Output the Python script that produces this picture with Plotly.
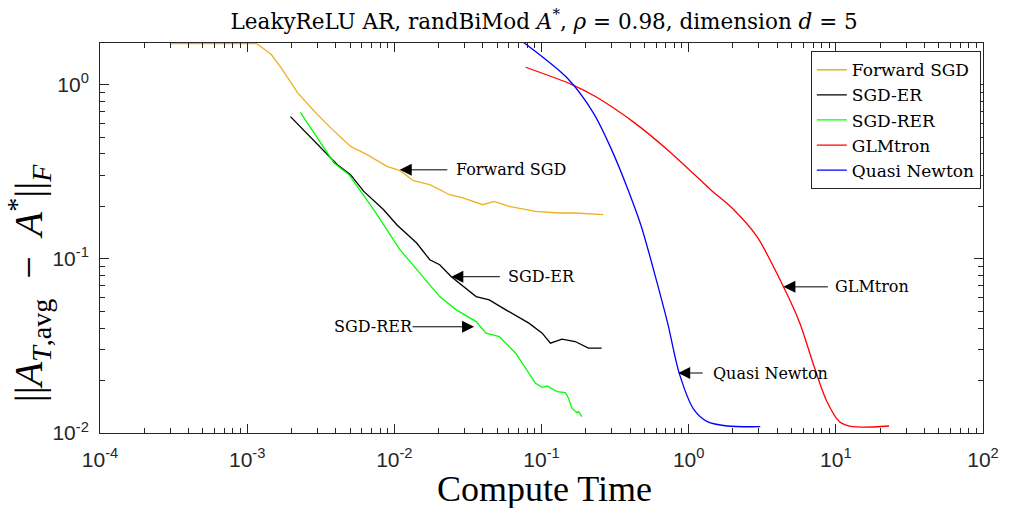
import math
import plotly.graph_objects as go

# ---- series data (compute time, error) ----
fwd_x = [3.02e-4, 1.155e-3, 1.316e-3, 1.458e-3, 1.702e-3, 1.987e-3, 2.205e-3, 2.857e-3,
         3.697e-3, 5.04e-3, 6.53e-3, 8.90e-3, 0.01094, 0.01347, 0.01742, 0.02375, 0.02924,
         0.03989, 0.04774, 0.06023, 0.0911, 0.1308, 0.1694, 0.2627]
fwd_y = [1.72, 1.72, 1.589, 1.487, 1.247, 1.023, 0.896, 0.7024,
         0.564, 0.4418, 0.396, 0.3392, 0.3203, 0.2807, 0.2662, 0.2332, 0.2233,
         0.2043, 0.2135, 0.1998, 0.187, 0.1831, 0.1831, 0.179]

er_x = [1.969e-3, 4.10e-3, 5.04e-3, 6.20e-3, 8.46e-3, 0.01039, 0.01418, 0.01742, 0.02034,
        0.02438, 0.03594, 0.04416, 0.05723, 0.0821, 0.1011, 0.1150, 0.1378, 0.1694,
        0.2083, 0.2564]
er_y = [0.6548, 0.3469, 0.304, 0.2436, 0.1912, 0.1568, 0.1231, 0.0987, 0.0924,
        0.0788, 0.0607, 0.0581, 0.0509, 0.0427, 0.0374, 0.0328, 0.0346, 0.0335,
        0.0307, 0.0307]

rer_x = [2.299e-3, 3.897e-3, 4.915e-3, 7.24e-3, 0.01094, 0.01418, 0.02034, 0.02636,
         0.03594, 0.04197, 0.0516, 0.0668, 0.0911, 0.1011, 0.1093, 0.1275, 0.1451,
         0.1527, 0.1609, 0.1739, 0.1783, 0.1879]
rer_y = [0.6932, 0.3548, 0.304, 0.1912, 0.1126, 0.0865, 0.0607, 0.0509,
         0.0436, 0.0374, 0.0358, 0.0287, 0.0193, 0.0183, 0.01862, 0.01728, 0.01705,
         0.01583, 0.01387, 0.01309, 0.01326, 0.01241]

glm_x = [0.078, 0.1609, 0.231, 0.4295, 0.7588, 1.411, 2.025, 2.906, 4.40, 5.695,
         7.0, 8.6, 10.59, 13.02, 22.99]
glm_y = [1.257, 1.0, 0.8566, 0.6025, 0.405, 0.2492, 0.1912, 0.1343, 0.0693, 0.0427,
         0.02515, 0.01548, 0.01161, 0.01087, 0.01097]

qn_x = [0.0745, 0.149, 0.225, 0.2993, 0.3871, 0.4767, 0.5856, 0.72, 0.863, 1.089,
        1.339, 1.825, 3.063]
qn_y = [1.76, 1.093, 0.6877, 0.4231, 0.2492, 0.1533, 0.0828, 0.0427, 0.022, 0.01356,
        0.01161, 0.01097, 0.01087]

names = ["Forward SGD", "SGD-ER", "SGD-RER", "GLMtron", "Quasi Newton"]
colors = ["#EDB120", "#000000", "#00FF00", "#FF0000", "#0000FF"]
shapes = ["linear", "linear", "linear", "spline", "spline"]

x_ticks = [1e-4, 1e-3, 1e-2, 1e-1, 1e0, 1e1, 1e2]
x_ticktext = ["10<sup>-4</sup>", "10<sup>-3</sup>", "10<sup>-2</sup>", "10<sup>-1</sup>",
              "10<sup>0</sup>", "10<sup>1</sup>", "10<sup>2</sup>"]
y_ticks = [1e-2, 1e-1, 1e0]
y_ticktext = ["10<sup>-2</sup>", "10<sup>-1</sup>", "10<sup>0</sup>"]

SERIF = "DejaVu Serif"
SERIF_BIG = "Liberation Serif"
SANS = "Liberation Sans"
AXC = "#262626"
NB = "\u00a0"

fig = go.Figure()
for xs, ys, nm, c, sh in zip([fwd_x, er_x, rer_x, glm_x, qn_x],
                             [fwd_y, er_y, rer_y, glm_y, qn_y], names, colors, shapes):
    line = dict(color=c, width=1.3, shape=sh)
    if sh == "spline":
        line["smoothing"] = 0.8
    fig.add_trace(go.Scatter(x=xs, y=ys, mode="lines", name=nm, line=line))


def minor_vals(lo, hi):
    vals = []
    for e in range(lo, hi):
        for m in range(2, 10):
            vals.append(m * 10.0 ** e)
    return vals


axis_common = dict(
    type="log", showgrid=False, zeroline=False, showline=True, linecolor=AXC,
    linewidth=1, mirror="allticks", ticks="inside", ticklen=9, tickwidth=1,
    tickcolor=AXC, tickfont=dict(family=SANS, size=21, color=AXC),
)

fig.update_xaxes(
    **axis_common, range=[-4, 2], tickvals=x_ticks, ticktext=x_ticktext,
    minor=dict(ticks="inside", ticklen=5, tickcolor=AXC, tickvals=minor_vals(-4, 2)),
    ticklabelstandoff=8,
)
fig.update_yaxes(
    **axis_common, range=[-2, 0.2385], tickvals=y_ticks, ticktext=y_ticktext,
    minor=dict(ticks="inside", ticklen=5, tickcolor=AXC, tickvals=minor_vals(-2, 1)),
    ticklabelstandoff=6,
)

# arrow annotations: (head x, head y, tail offset px, label, label x, label y, anchor)
arrows = [
    (0.01089, 0.324, 49, "Forward SGD", 10 ** -1.5926, 10 ** -0.4885, "left"),
    (0.0244, 0.0789, 50, "SGD-ER", 10 ** -1.2424, 10 ** -1.1034, "left"),
    (0.0348, 0.0407, -63, "SGD-RER", 10 ** -1.8622, 10 ** -1.3891, "right"),
    (4.40, 0.069, 46, "GLMtron", 10 ** 0.9798, 10 ** -1.159, "left"),
    (0.849, 0.0221, 26, "Quasi Newton", 10 ** 0.1495, 10 ** -1.6569, "left"),
]
for hx, hy, dx, label, tx, ty, anc in arrows:
    fig.add_annotation(x=math.log10(hx), y=math.log10(hy), xref="x", yref="y",
                       text="", showarrow=True, ax=dx, ay=0, arrowhead=2,
                       arrowsize=2.4, arrowwidth=1, arrowcolor="#000000",
                       standoff=0, startstandoff=0)
    fig.add_annotation(x=math.log10(tx), y=math.log10(ty), xref="x", yref="y",
                       text=label, showarrow=False, xanchor=anc, yanchor="middle",
                       font=dict(family=SERIF, size=16, color="#000000"))

# axis labels
fig.add_annotation(x=0.503, y=-0.143, xref="paper", yref="paper", text="Compute Time",
                   showarrow=False, xanchor="center", yanchor="middle",
                   font=dict(family=SERIF_BIG, size=36, color="#000000"))
fig.add_annotation(x=-0.081, y=0.385, xref="paper", yref="paper",
                   text=("||<i>A</i><sub><i>T</i>,avg</sub>" + NB * 2 + "\u2212" + NB * 2
                         + "<i>A</i><sup>*</sup>||<sub><i>F</i></sub>"),
                   textangle=-90, showarrow=False, xanchor="center", yanchor="middle",
                   font=dict(family=SERIF_BIG, size=40, color="#000000"))

title_text = ("LeakyReLU AR, randBiMod <i>A</i><sup>*</sup>, <i>\u03c1</i>" + NB + "=" + NB
              + "0.98, dimension <i>d</i>" + NB + "=" + NB + "5")

fig.update_layout(
    width=1011, height=508,
    margin=dict(l=100, r=20, t=43, b=75),
    paper_bgcolor="white", plot_bgcolor="white",
    font=dict(family=SERIF, color="#000000"),
    title=dict(
        text=title_text,
        x=0.503, xref="paper", xanchor="center", y=1 - 21 / 508, yref="container",
        yanchor="middle", font=dict(family=SERIF, size=21.5, color="#000000"),
    ),
    legend=dict(
        x=0.805, y=0.979, xanchor="left", yanchor="top",
        bgcolor="white", bordercolor=AXC, borderwidth=1,
        font=dict(family=SERIF, size=17, color="#000000"),
        tracegroupgap=0, itemwidth=30,
    ),
    showlegend=True,
)

fig.write_html("out.html")
